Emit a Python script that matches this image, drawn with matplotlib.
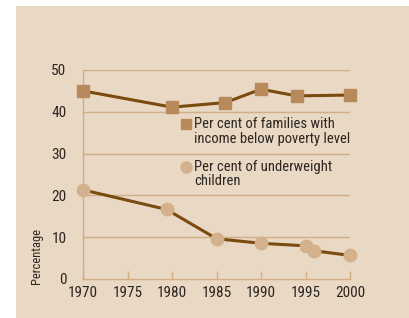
import matplotlib
matplotlib.use('Agg')
import matplotlib.pyplot as plt
from matplotlib.patches import Rectangle

plt.rcParams['font.family'] = ['Roboto Condensed', 'DejaVu Sans']

# families with income below poverty level
fam_years = [1970, 1980, 1986, 1990, 1994, 2000]
fam_vals = [45.0, 41.1, 42.2, 45.4, 43.8, 44.0]

# underweight children
uw_years = [1970, 1979.4, 1985, 1990, 1995, 1996, 2000]
uw_vals = [21.3, 16.6, 9.6, 8.5, 7.9, 6.7, 5.6]

xticks = [1970, 1975, 1980, 1985, 1990, 1995, 2000]
yticks = [0, 10, 20, 30, 40, 50]

bg = '#E9D8C4'
grid_c = '#CFAE88'
line_c = '#7B4A0F'
sq_c = '#B8895A'
ci_c = '#D4B18C'
txt_c = '#2B2622'

fig = plt.figure(figsize=(4.09, 3.18), dpi=100)
fig.patch.set_facecolor('white')
fig.patches.append(Rectangle((16 / 409, 0), 1, 1 - 6 / 318, transform=fig.transFigure,
                             facecolor=bg, edgecolor='none', zorder=-5))

ax = fig.add_axes([83 / 409, 1 - 278.8 / 318, 267 / 409, 208.8 / 318])
ax.set_zorder(2)
ax.set_facecolor('none')
ax.set_xlim(1970, 2000)
ax.set_ylim(0, 50)

for y in yticks[1:]:
    ax.axhline(y, color=grid_c, lw=1.0, zorder=1)

ax.plot(fam_years, fam_vals, color=line_c, lw=2.2, zorder=3, clip_on=False)
ax.plot(fam_years, fam_vals, ls='none', marker='s', ms=8.5, color=sq_c, zorder=4, clip_on=False)
ax.plot(uw_years, uw_vals, color=line_c, lw=2.2, zorder=3, clip_on=False)
ax.plot(uw_years, uw_vals, ls='none', marker='o', ms=9, color=ci_c, zorder=4, clip_on=False)

for s in ['top', 'right']:
    ax.spines[s].set_visible(False)
for s in ['left', 'bottom']:
    ax.spines[s].set_color(grid_c)
    ax.spines[s].set_linewidth(1.0)

ax.set_xticks(xticks)
ax.set_xticklabels([str(x) for x in xticks])
ax.set_yticks(yticks)
ax.tick_params(axis='x', direction='in', length=6, width=1, color=grid_c,
               labelsize=11, labelcolor=txt_c, pad=5)
ax.tick_params(axis='y', length=0, labelsize=11, labelcolor=txt_c, pad=12)
ax.get_xticklines()[-2].set_color('#D9848A')

ax.set_ylabel('Percentage', fontsize=9, color=txt_c, labelpad=0)
ax.yaxis.set_label_coords(-0.15, 0.11)

# legend
ax.plot([0.385], [0.741], transform=ax.transAxes, marker='s', ms=7.5, color=sq_c,
        ls='none', clip_on=False)
ax.text(0.416, 0.775, 'Per cent of families with\nincome below poverty level',
        transform=ax.transAxes, fontsize=10.5, color=txt_c, va='top', linespacing=1.05)
ax.plot([0.385], [0.537], transform=ax.transAxes, marker='o', ms=8, color=ci_c,
        ls='none', clip_on=False)
ax.text(0.416, 0.571, 'Per cent of underweight\nchildren',
        transform=ax.transAxes, fontsize=10.5, color=txt_c, va='top', linespacing=1.05)

fig.savefig('out.png', dpi=100, facecolor=fig.get_facecolor())
